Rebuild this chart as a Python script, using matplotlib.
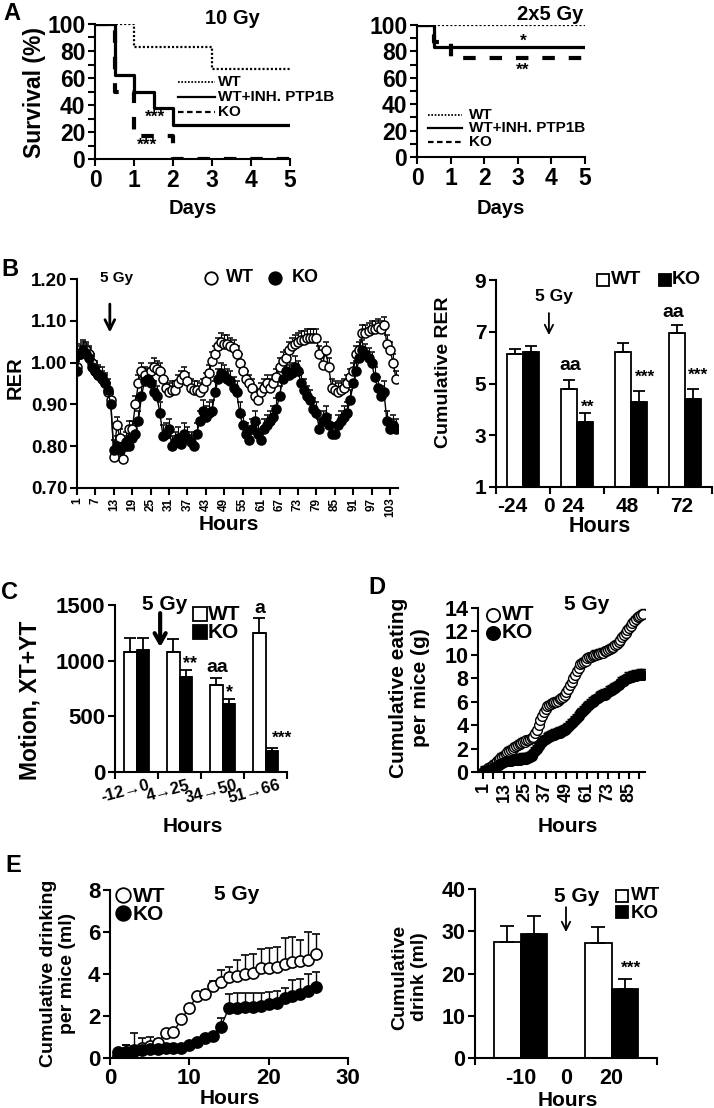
import numpy as np
import matplotlib
matplotlib.use('Agg')
import matplotlib.pyplot as plt
from matplotlib.lines import Line2D
from matplotlib.transforms import ScaledTranslation

# ---------------- data ----------------
# A: survival (%) after 10 Gy
km10_wt_days = [0, 1, 3, 5]
km10_wt = [100, 83.3, 66.7, 66.7]
km10_inh_days = [0, 0.5, 1, 1.5, 2, 5]
km10_inh = [100, 62.5, 50, 37.5, 25, 25]
km10_ko_days = [0, 0.5, 1, 2, 5]
km10_ko = [100, 50, 16.7, 0, 0]
# A: survival (%) after 2x5 Gy
km25_wt_days = [0, 5]
km25_wt = [100, 100]
km25_inh_days = [0, 0.5, 5]
km25_inh = [100, 83.3, 83.3]
km25_ko_days = [0, 0.5, 1, 5]
km25_ko = [100, 87.5, 75, 75]

# B: hourly RER
rer_hours = np.arange(1, 106)
rer_wt = [0.99, 1.02, 1.03, 1.03, 1.02, 1.00, 0.98, 0.97, 0.96, 0.95, 0.93, 0.91,
          0.775, 0.85, 0.82, 0.77, 0.80, 0.84, 0.84, 0.90, 0.95,
          0.98, 0.97, 0.96, 0.98, 0.99, 0.985, 0.98, 0.96, 0.94, 0.93, 0.935,
          0.935, 0.95, 0.96, 0.97, 0.955, 0.94, 0.935, 0.935, 0.93, 0.94, 0.955,
          0.975, 1.005, 1.02, 1.04, 1.05, 1.045, 1.045, 1.04, 1.035, 1.02, 1.00,
          0.98, 0.96, 0.95, 0.94, 0.92, 0.91,
          0.93, 0.94, 0.95, 0.94, 0.95, 0.965, 0.99, 1.005, 1.01, 1.03, 1.04,
          1.045, 1.05, 1.055, 1.055, 1.06, 1.06, 1.06, 1.06,
          1.02, 0.995, 1.03, 0.99, 0.94, 0.935, 0.93, 0.935, 0.94, 0.95, 0.965, 0.98,
          1.02, 1.03, 1.07, 1.07, 1.075, 1.08, 1.08, 1.085, 1.08, 1.09, 1.045,
          1.03, 1.00, 0.96]
rer_ko = [0.98, 1.02, 1.03, 1.02, 1.01, 0.99, 0.98, 0.97, 0.965, 0.95, 0.935, 0.90,
          0.79, 0.80, 0.79, 0.80, 0.81, 0.80, 0.82, 0.83, 0.86,
          0.92, 0.955, 0.96, 0.95, 0.93, 0.92, 0.88, 0.825, 0.83, 0.84, 0.80,
          0.81, 0.82, 0.805, 0.83, 0.82, 0.81, 0.80, 0.83, 0.86, 0.885, 0.87,
          0.88, 0.885, 0.93, 0.96, 0.975, 0.97, 0.96, 0.955, 0.94, 0.93, 0.88,
          0.85, 0.83, 0.815, 0.84, 0.86, 0.83,
          0.815, 0.84, 0.85, 0.86, 0.87, 0.89, 0.92, 0.96, 0.98, 0.97, 0.975,
          0.99, 0.98, 0.95, 0.935, 0.92, 0.91, 0.89, 0.88,
          0.84, 0.86, 0.87, 0.85, 0.83, 0.83, 0.85, 0.86, 0.87, 0.88, 0.91, 0.95,
          0.98, 1.01, 1.03, 1.02, 1.01, 1.00, 0.965, 0.94, 0.92, 0.93, 0.86,
          0.84, 0.85, 0.84]
rer_wt_err = 0.02
rer_ko_err = 0.025

# B: cumulative RER
cum_labels = ['-24', '0', '24', '48', '72']
cum_label_pos = [-0.2, 0.48, 0.93, 1.93, 2.94]
cum_wt = [6.15, 4.8, 6.2, 6.95]
cum_wt_err = [0.18, 0.35, 0.35, 0.3]
cum_ko = [6.2, 3.5, 4.3, 4.4]
cum_ko_err = [0.25, 0.35, 0.4, 0.4]

# C: motion
motion_labels = ['-12\u21920', '4\u219225', '34\u219250', '51\u219266']
motion_wt = [1080, 1080, 785, 1245]
motion_wt_err = [120, 115, 60, 135]
motion_ko = [1095, 850, 615, 190]
motion_ko_err = [110, 70, 40, 30]

# D: cumulative eating (g)
eat_hours = np.arange(1, 94)
eat_wt = [0.0, 0.1, 0.2, 0.3, 0.4, 0.5, 0.6, 0.7, 0.9, 1.0,
          1.2, 1.3, 1.4, 1.5, 1.7, 1.8, 1.9, 2.0, 2.1, 2.2,
          2.3, 2.4, 2.5, 2.6, 2.6, 2.7, 2.7, 2.8, 2.9, 3.0,
          3.3, 3.6, 4.0, 4.4, 4.8, 5.1, 5.4, 5.6, 5.7, 5.8,
          5.9, 5.95, 6.0, 6.1, 6.2, 6.3, 6.4, 6.6, 6.8, 7.1,
          7.4, 7.7, 8.0, 8.3, 8.6, 8.9, 9.2, 9.3, 9.4, 9.5,
          9.7, 9.8, 9.8, 9.9, 10.0, 10.0, 10.1, 10.1, 10.2, 10.2,
          10.3, 10.3, 10.4, 10.5, 10.6, 10.7, 10.8, 10.9, 11.1, 11.3,
          11.5, 11.7, 11.9, 12.1, 12.3, 12.5, 12.7, 12.9, 13.1, 13.2,
          13.3, 13.4, 13.5]
eat_ko = [0.0, 0.05, 0.1, 0.15, 0.2, 0.25, 0.3, 0.4, 0.5, 0.6,
          0.7, 0.8, 0.85, 0.9, 0.9, 0.95, 0.95, 1.0, 1.0, 1.0,
          1.05, 1.05, 1.1, 1.1, 1.1, 1.15, 1.2, 1.3, 1.4, 1.6,
          1.8, 2.0, 2.2, 2.4, 2.6, 2.7, 2.8, 2.9, 3.0, 3.1,
          3.15, 3.2, 3.25, 3.3, 3.35, 3.4, 3.5, 3.6, 3.7, 3.85,
          4.0, 4.15, 4.3, 4.45, 4.6, 4.8, 5.0, 5.15, 5.3, 5.45,
          5.6, 5.75, 5.9, 6.0, 6.1, 6.2, 6.3, 6.4, 6.5, 6.55,
          6.6, 6.7, 6.8, 6.9, 7.0, 7.1, 7.2, 7.3, 7.45, 7.6,
          7.7, 7.8, 7.9, 8.0, 8.05, 8.1, 8.15, 8.2, 8.2, 8.25,
          8.3, 8.3, 8.3]
eat_wt_err = 0.4
eat_ko_err = 0.5

# E: cumulative drinking (ml)
drink_hours = np.arange(1, 27)
drink_wt = [0.1, 0.3, 0.4, 0.5, 0.55, 0.7, 1.2, 1.25, 1.85, 2.4, 2.95, 3.05, 3.45,
            3.6, 3.85, 3.9, 4.0, 4.05, 4.3, 4.3, 4.35, 4.5, 4.55, 4.6, 4.65, 4.95]
drink_wt_err = [0.05, 0.3, 0.8, 0.45, 0.45, 0.2, 0.1, 0.1, 0.1, 0.1, 0.1, 0.2, 0.2,
                0.6, 0.5, 0.75, 0.9, 0.9, 0.9, 0.95, 0.95, 1.2, 1.2, 1.0, 1.35, 0.95]
drink_ko = [0.3, 0.3, 0.35, 0.4, 0.42, 0.45, 0.48, 0.48, 0.5, 0.6, 0.75, 0.95, 1.05,
            1.5, 2.4, 2.4, 2.45, 2.45, 2.5, 2.55, 2.6, 2.85, 2.95, 3.05, 3.2, 3.4]
drink_ko_err = [0.05, 0.3, 0.2, 0.1, 0.1, 0.1, 0.1, 0.1, 0.1, 0.1, 0.1, 0.1, 0.1,
                0.4, 0.65, 0.7, 0.65, 0.65, 0.6, 0.6, 0.6, 0.5, 0.75, 0.7, 0.8, 0.7]

# E: cumulative drink
drink_labels = ['-10', '0', '20']
drink_label_pos = [0, 0.5, 1]
drink_cum_wt = [27.5, 27.3]
drink_cum_wt_err = [3.7, 3.7]
drink_cum_ko = [29.3, 16.4]
drink_cum_ko_err = [4.3, 2.4]

# ---------------- style ----------------
plt.rcParams['font.family'] = ['Liberation Sans', 'DejaVu Sans']
plt.rcParams['font.weight'] = 'bold'
plt.rcParams['lines.scale_dashes'] = False

W, H = 714, 1108
fig = plt.figure(figsize=(W / 100, H / 100), dpi=100)


def axes_px(l, t, r, b):
    ax = fig.add_axes([l / W, 1 - b / H, (r - l) / W, (b - t) / H])
    for s in ['top', 'right']:
        ax.spines[s].set_visible(False)
    for s in ['left', 'bottom']:
        ax.spines[s].set_linewidth(1.5)
    ax.patch.set_alpha(0)
    return ax


def ticks(ax, size, length=5):
    ax.tick_params(axis='both', which='both', direction='out', width=1.5,
                   length=length, labelsize=size, pad=2)


def txt(x, y, s, size, rot=0, **kw):
    fig.text(x / W, 1 - y / H, s, fontsize=size, rotation=rot, ha='center',
             va='center', fontweight='bold', **kw)


def key_mark(x, y, marker, fc, ms):
    fig.add_artist(Line2D([x / W], [1 - y / H], marker=marker, ms=ms, mfc=fc,
                          mec='black', mew=1.3, ls='none'))


def key_line(x0, x1, y, **kw):
    fig.add_artist(Line2D([x0 / W, x1 / W], [1 - y / H, 1 - y / H], color='black', **kw))


def arrow(ax, x, y0, y1, lw, hw, hl):
    ax.annotate('', xy=(x, y1), xytext=(x, y0),
                arrowprops=dict(arrowstyle='->,head_width=%s,head_length=%s' % (hw, hl),
                                lw=lw, color='black', shrinkA=0, shrinkB=0))


dot = dict(color='black', lw=1.6, ls=(0, (1.5, 1.5)))
solid = dict(color='black', lw=2.3, ls='-')
dash = dict(color='black', lw=3.0, ls=(0, (9, 10)))

# ---------------- A ----------------
for (l, t, r, b), data, title, tpos in [
        ((95, 24, 290, 159), (km10_wt_days, km10_wt, km10_inh_days, km10_inh,
                              km10_ko_days, km10_ko), '10 Gy', (232, 19)),
        ((417, 25, 585, 157), (km25_wt_days, km25_wt, km25_inh_days, km25_inh,
                               km25_ko_days, km25_ko), '2x5 Gy', (550, 14))]:
    ax = axes_px(l, t, r, b)
    ax.step(data[0], data[1], where='post', **dot)
    ax.step(data[2], data[3], where='post', **solid)
    ax.step(data[4], data[5], where='post', **dash)
    ax.set_xlim(0, 5)
    ax.set_ylim(0, 100)
    ax.set_xticks(range(6))
    ax.set_yticks(range(0, 101, 20))
    ax.set_yticks(range(10, 100, 20), minor=True)
    ticks(ax, 16.5)
    txt(tpos[0], tpos[1], title, 14.5)
    txt((l + r) / 2, 208, 'Days', 14.5)

axA1, axA2 = fig.axes[0], fig.axes[1]
axA1.text(1.54, 31, '***', fontsize=12.5, ha='center', va='center')
axA1.text(1.33, 10, '***', fontsize=12.5, ha='center', va='center')
axA2.text(3.15, 88, '*', fontsize=12.5, ha='center', va='center')
axA2.text(3.15, 66, '**', fontsize=12.5, ha='center', va='center')
txt(35, 93, 'Survival (%)', 16.5, 90)
txt(12, 14, 'A', 17)

for (x0, x1, ys, lab_x, fs) in [(178, 215, (82, 97, 112), 218, 11),
                                (428, 462, (115, 128, 142), 469, 11)]:
    key_line(x0, x1, ys[0], lw=1.3, ls=(0, (1.2, 1.2)))
    key_line(x0, x1, ys[1], lw=1.6, ls='-')
    key_line(x0, x1, ys[2], lw=1.6, ls=(0, (4, 2.5)))
    for yy, lab in zip(ys, ['WT', 'WT+INH. PTP1B', 'KO']):
        fig.text(lab_x / W, 1 - yy / H, lab, fontsize=fs, ha='left', va='center')

# ---------------- B left ----------------
ax = axes_px(77, 279, 398, 488)
zeros = np.zeros(len(rer_hours))
ax.errorbar(rer_hours, rer_wt, yerr=[zeros, zeros + rer_wt_err], fmt='-o', color='black',
            mfc='white', mec='black', ms=6.5, mew=1.1, lw=1.0, elinewidth=0.8,
            capsize=2.5, capthick=0.8)
ax.errorbar(rer_hours, rer_ko, yerr=[zeros, zeros + rer_ko_err], fmt='-o', color='black',
            mfc='black', mec='black', ms=6.5, mew=1.1, lw=1.0, elinewidth=0.8,
            capsize=2.5, capthick=0.8)
ax.set_xlim(1, 105.6)
ax.set_ylim(0.7, 1.2)
ax.set_yticks([0.7, 0.8, 0.9, 1.0, 1.1, 1.2])
ax.set_yticklabels(['%.2f' % v for v in [0.7, 0.8, 0.9, 1.0, 1.1, 1.2]])
ax.set_xticks(range(1, 104, 6))
ax.set_xticklabels([str(v) for v in range(1, 104, 6)], rotation=90)
ticks(ax, 13.5)
ax.tick_params(axis='x', labelsize=8.5)
arrow(ax, 11.7, 1.14, 1.072, 2.0, 0.35, 0.7)
txt(117, 278, '5 Gy', 11)
key_mark(211, 278, 'o', 'white', 9)
fig.text(226 / W, 1 - 278 / H, 'WT', fontsize=13, ha='left', va='center')
key_mark(275, 278, 'o', 'black', 9)
fig.text(292 / W, 1 - 278 / H, 'KO', fontsize=13, ha='left', va='center')
txt(15, 378, 'RER', 14.5, 90)
txt(229, 524, 'Hours', 15)
txt(10, 270, 'B', 17)

# ---------------- B right ----------------
ax = axes_px(496, 280, 712, 487)
xg = np.arange(len(cum_wt))
ax.bar(xg - 0.15, cum_wt, 0.3, color='white', edgecolor='black', lw=1.3,
       yerr=[np.zeros(4), cum_wt_err], capsize=4,
       error_kw=dict(elinewidth=1.3, capthick=1.3))
ax.bar(xg + 0.15, cum_ko, 0.3, color='black', edgecolor='black', lw=1.3,
       yerr=[np.zeros(4), cum_ko_err], capsize=4,
       error_kw=dict(elinewidth=1.3, capthick=1.3))
ax.set_xlim(-0.5, 3.5)
ax.set_ylim(1, 9)
ax.set_yticks([1, 3, 5, 7, 9])
ax.set_xticks(cum_label_pos)
ax.set_xticklabels(cum_labels)
ax.set_xticks([-0.5, 0.5, 1.5, 2.5, 3.5], minor=True)
ticks(ax, 15)
ax.tick_params(axis='x', which='major', length=0, pad=7)
arrow(ax, 0.48, 7.72, 6.87, 1.3, 0.3, 0.6)
ax.text(0.87, 5.7, 'aa', fontsize=14, ha='center', va='center')
ax.text(2.78, 7.76, 'aa', fontsize=14, ha='center', va='center')
ax.text(1.19, 4.1, '**', fontsize=12.5, ha='center', va='center')
ax.text(2.26, 5.25, '***', fontsize=12.5, ha='center', va='center')
ax.text(3.24, 5.33, '***', fontsize=12.5, ha='center', va='center')
txt(554, 296, '5 Gy', 12.5)
key_mark(603, 280, 's', 'white', 9)
fig.text(611 / W, 1 - 280 / H, 'WT', fontsize=14, ha='left', va='center')
key_mark(665, 280, 's', 'black', 9)
fig.text(672 / W, 1 - 280 / H, 'KO', fontsize=14, ha='left', va='center')
txt(443, 372, 'Cumulative RER', 14, 90)
txt(600, 526, 'Hours', 15.5)

# ---------------- C ----------------
ax = axes_px(115, 605, 287, 772)
xg = np.arange(len(motion_wt))
ax.bar(xg - 0.145, motion_wt, 0.29, color='white', edgecolor='black', lw=1.3,
       yerr=[np.zeros(4), motion_wt_err], capsize=4,
       error_kw=dict(elinewidth=1.3, capthick=1.3))
ax.bar(xg + 0.145, motion_ko, 0.29, color='black', edgecolor='black', lw=1.3,
       yerr=[np.zeros(4), motion_ko_err], capsize=4,
       error_kw=dict(elinewidth=1.3, capthick=1.3))
ax.set_xlim(-0.5, 3.5)
ax.set_ylim(0, 1500)
ax.set_yticks([0, 500, 1000, 1500])
ax.set_xticks(xg)
ax.set_xticklabels(motion_labels, rotation=15, ha='center')
ax.set_xticks([-0.5, 0.5, 1.5, 2.5, 3.5], minor=True)
ticks(ax, 16)
ax.tick_params(axis='x', which='major', length=0, labelsize=12, pad=4)
shift = ScaledTranslation(-11 / 100, 0, fig.dpi_scale_trans)
for lbl in ax.get_xticklabels():
    lbl.set_transform(lbl.get_transform() + shift)
arrow(ax, 0.55, 1427, 1122, 3.0, 0.4, 0.7)
ax.text(1.24, 978, '**', fontsize=13, ha='center', va='center')
ax.text(1.87, 943, 'aa', fontsize=14, ha='center', va='center')
ax.text(2.17, 709, '*', fontsize=13, ha='center', va='center')
ax.text(2.87, 1472, 'a', fontsize=14, ha='center', va='center')
ax.text(3.38, 305, '***', fontsize=12.5, ha='center', va='center')
txt(165, 604, '5 Gy', 15)
key_mark(200, 614, 's', 'white', 9.5)
fig.text(208 / W, 1 - 615 / H, 'WT', fontsize=15, ha='left', va='center')
key_mark(200, 632, 's', 'black', 9.5)
fig.text(208 / W, 1 - 633 / H, 'KO', fontsize=15, ha='left', va='center')
txt(30, 700, 'Motion, XT+YT', 16.5, 90)
txt(193, 827, 'Hours', 15)
txt(10, 593, 'C', 17)

# ---------------- D ----------------
ax = axes_px(478, 608, 645, 772)
zeros = np.zeros(len(eat_hours))
ax.errorbar(eat_hours, eat_wt, yerr=[zeros, zeros + eat_wt_err], fmt='-o', color='black',
            mfc='white', mec='black', ms=7, mew=1.0, lw=1.0, elinewidth=0.7,
            capsize=2, capthick=0.7)
ax.errorbar(eat_hours, eat_ko, yerr=[zeros, zeros + eat_ko_err], fmt='-o', color='black',
            mfc='black', mec='black', ms=7, mew=1.0, lw=1.0, elinewidth=0.7,
            capsize=2, capthick=0.7)
ax.set_xlim(-1.9, 94.2)
ax.set_ylim(0, 14)
ax.set_yticks(range(0, 15, 2))
ax.set_xticks(range(1, 86, 12))
ax.set_xticklabels([str(v) for v in range(1, 86, 12)], rotation=90)
ax.set_xticks(range(7, 92, 12), minor=True)
ticks(ax, 15.5)
ax.tick_params(axis='x', labelsize=13)
txt(587, 605, '5 Gy', 15)
key_mark(493, 615, 'o', 'white', 9.5)
fig.text(502 / W, 1 - 615 / H, 'WT', fontsize=15, ha='left', va='center')
key_mark(493, 633, 'o', 'black', 9.5)
fig.text(502 / W, 1 - 633 / H, 'KO', fontsize=15, ha='left', va='center')
txt(410, 688, 'Cumulative eating\nper mice (g)', 15, 90, linespacing=1.2)
txt(568, 827, 'Hours', 15)
txt(377, 588, 'D', 17)

# ---------------- E left ----------------
ax = axes_px(110, 890, 348, 1058)
ax.errorbar(drink_hours, drink_wt, yerr=[np.zeros(26), drink_wt_err], fmt='-o',
            color='black', mfc='white', mec='black', ms=8, mew=1.2, lw=1.0,
            elinewidth=1.0, capsize=3, capthick=1.0)
ax.errorbar(drink_hours, drink_ko, yerr=[np.zeros(26), drink_ko_err], fmt='-o',
            color='black', mfc='black', mec='black', ms=8, mew=1.2, lw=1.0,
            elinewidth=1.0, capsize=3, capthick=1.0)
ax.set_xlim(0, 30)
ax.set_ylim(0, 8)
ax.set_xticks([0, 10, 20, 30])
ax.set_yticks([0, 2, 4, 6, 8])
ticks(ax, 16)
txt(237, 895, '5 Gy', 15)
key_mark(123, 895, 'o', 'white', 10.5)
fig.text(133 / W, 1 - 896 / H, 'WT', fontsize=15, ha='left', va='center')
key_mark(123, 913, 'o', 'black', 10.5)
fig.text(133 / W, 1 - 914 / H, 'KO', fontsize=15, ha='left', va='center')
txt(58, 973, 'Cumulative drinking\nper mice (ml)', 14, 90, linespacing=1.2)
txt(230, 1098, 'Hours', 15)
txt(13, 866, 'E', 17)

# ---------------- E right ----------------
ax = axes_px(475, 889, 657, 1058)
xg = np.arange(len(drink_cum_wt))
ax.bar(xg - 0.145, drink_cum_wt, 0.29, color='white', edgecolor='black', lw=1.3,
       yerr=[np.zeros(2), drink_cum_wt_err], capsize=5,
       error_kw=dict(elinewidth=1.3, capthick=1.3))
ax.bar(xg + 0.145, drink_cum_ko, 0.29, color='black', edgecolor='black', lw=1.3,
       yerr=[np.zeros(2), drink_cum_ko_err], capsize=5,
       error_kw=dict(elinewidth=1.3, capthick=1.3))
ax.set_xlim(-0.5, 1.5)
ax.set_ylim(0, 40)
ax.set_yticks(range(0, 41, 10))
ax.set_xticks(drink_label_pos)
ax.set_xticklabels(drink_labels)
ax.set_xticks([-0.5, 0.5, 1.5], minor=True)
ticks(ax, 15.5)
ax.tick_params(axis='x', which='major', length=0, pad=7)
arrow(ax, 0.5, 35.7, 29.8, 1.3, 0.3, 0.6)
ax.text(1.22, 21.3, '***', fontsize=12.5, ha='center', va='center')
txt(577, 897, '5 Gy', 15)
key_mark(622, 896, 's', 'white', 8.5)
fig.text(631 / W, 1 - 896 / H, 'WT', fontsize=13.5, ha='left', va='center')
key_mark(622, 912, 's', 'black', 8.5)
fig.text(631 / W, 1 - 913 / H, 'KO', fontsize=13.5, ha='left', va='center')
txt(410, 977, 'Cumulative\ndrink (ml)', 14, 90, linespacing=1.2)
txt(568, 1100, 'Hours', 15)

fig.savefig('out.png', dpi=100)
